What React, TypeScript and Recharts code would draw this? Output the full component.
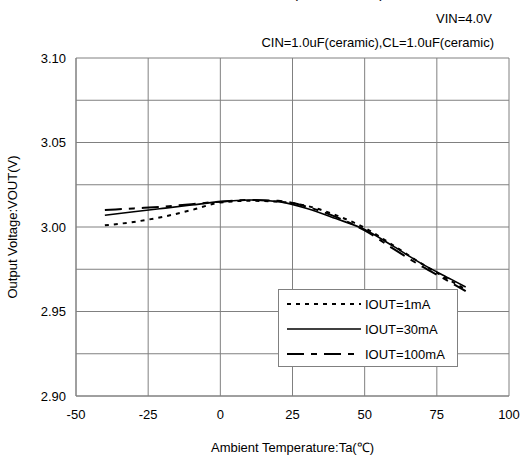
import { LineChart, Line, XAxis, YAxis, CartesianGrid } from 'recharts';

const temps = [-40, -30, -20, -10, 0, 10, 20, 30, 40, 50, 60, 70, 80, 85];
const iout1mA = [3.001, 3.003, 3.006, 3.010, 3.0145, 3.0155, 3.015, 3.0125, 3.007, 2.9995, 2.989, 2.978, 2.968, 2.963];
const iout30mA = [3.007, 3.009, 3.011, 3.013, 3.015, 3.016, 3.015, 3.011, 3.005, 2.9985, 2.9885, 2.978, 2.969, 2.9645];
const iout100mA = [3.010, 3.011, 3.012, 3.0135, 3.015, 3.016, 3.0155, 3.012, 3.006, 2.998, 2.987, 2.9765, 2.967, 2.962];

const xTicks = [-50, -25, 0, 25, 50, 75, 100];
const yTicks = [2.9, 2.925, 2.95, 2.975, 3.0, 3.025, 3.05, 3.075, 3.1];

const seriesNames = ['IOUT=1mA', 'IOUT=30mA', 'IOUT=100mA'];

const data = temps.map((t, i) => ({
  t,
  a: iout1mA[i],
  b: iout30mA[i],
  c: iout100mA[i],
}));

const font = 'Liberation Sans, Arial, sans-serif';

const styles = [
  { dash: '4 5', width: 2 },
  { dash: undefined, width: 1.6 },
  { dash: '17 7 6 7', width: 2.2 },
];

// legend drawn on top of the chart, outside recharts so it doesn't shrink the plot
const LegendBox = () => (
  <div
    style={{
      position: 'absolute',
      left: 278,
      top: 289,
      width: 180,
      height: 78,
      background: '#fff',
      border: '1px solid #808080',
      boxSizing: 'border-box',
    }}
  >
    <svg width={178} height={76} style={{ display: 'block' }}>
      {seriesNames.map((name, i) => (
        <g key={name}>
          <line
            x1={8}
            x2={82}
            y1={14 + i * 25}
            y2={14 + i * 25}
            stroke="#000"
            strokeWidth={styles[i].width}
            strokeDasharray={styles[i].dash}
          />
          <text x={86} y={19 + i * 25} fontSize={13} fontFamily={font} fill="#000">
            {name}
          </text>
        </g>
      ))}
    </svg>
  </div>
);

export default function App() {
  return (
    <div style={{ position: 'fixed', top: 0, left: 0, width: 524, height: 459, background: '#fff' }}>
      <LineChart
        width={524}
        height={459}
        data={data}
        margin={{ top: 58, right: 15, bottom: 33, left: 0 }}
        style={{ position: 'absolute', top: 0, left: 0 }}
      >
        <text x={292} y={-2} textAnchor="middle" fontSize={15} fontFamily={font} fill="#000">
          XC6221B302 (VOUT=3.0V)
        </text>
        <text x={492} y={23} textAnchor="end" fontSize={13} fontFamily={font} fill="#000">
          VIN=4.0V
        </text>
        <text x={494} y={47} textAnchor="end" fontSize={13} fontFamily={font} fill="#000">
          CIN=1.0uF(ceramic),CL=1.0uF(ceramic)
        </text>
        <CartesianGrid stroke="#808080" strokeWidth={1} />
        <XAxis
          dataKey="t"
          type="number"
          domain={[-50, 100]}
          ticks={xTicks}
          height={30}
          tickLine={false}
          axisLine={{ stroke: '#808080' }}
          tick={{ fontSize: 13, fontFamily: font, fill: '#000', dy: 6 }}
          label={{
            value: 'Ambient Temperature:Ta(℃)',
            position: 'insideBottom',
            offset: -26,
            style: { fontSize: 13, fontFamily: font, fill: '#000' },
          }}
        />
        <YAxis
          type="number"
          domain={[2.9, 3.1]}
          ticks={yTicks}
          width={76}
          tickLine={false}
          axisLine={{ stroke: '#808080' }}
          tickFormatter={(v: number) => (Math.round(v * 1000) % 50 === 0 ? v.toFixed(2) : '')}
          tick={{ fontSize: 13, fontFamily: font, fill: '#000', dx: -2 }}
          label={{
            value: 'Output Voltage:VOUT(V)',
            angle: -90,
            position: 'insideLeft',
            offset: 12,
            style: { fontSize: 13, fontFamily: font, fill: '#000', textAnchor: 'middle' },
          }}
        />
        <Line dataKey="a" stroke="#000" strokeWidth={2} strokeDasharray="4 5" dot={false} type="monotone" isAnimationActive={false} />
        <Line dataKey="b" stroke="#000" strokeWidth={1.6} dot={false} type="monotone" isAnimationActive={false} />
        <Line dataKey="c" stroke="#000" strokeWidth={2} strokeDasharray="17 7 6 7" dot={false} type="monotone" isAnimationActive={false} />
      </LineChart>
      <LegendBox />
    </div>
  );
}
